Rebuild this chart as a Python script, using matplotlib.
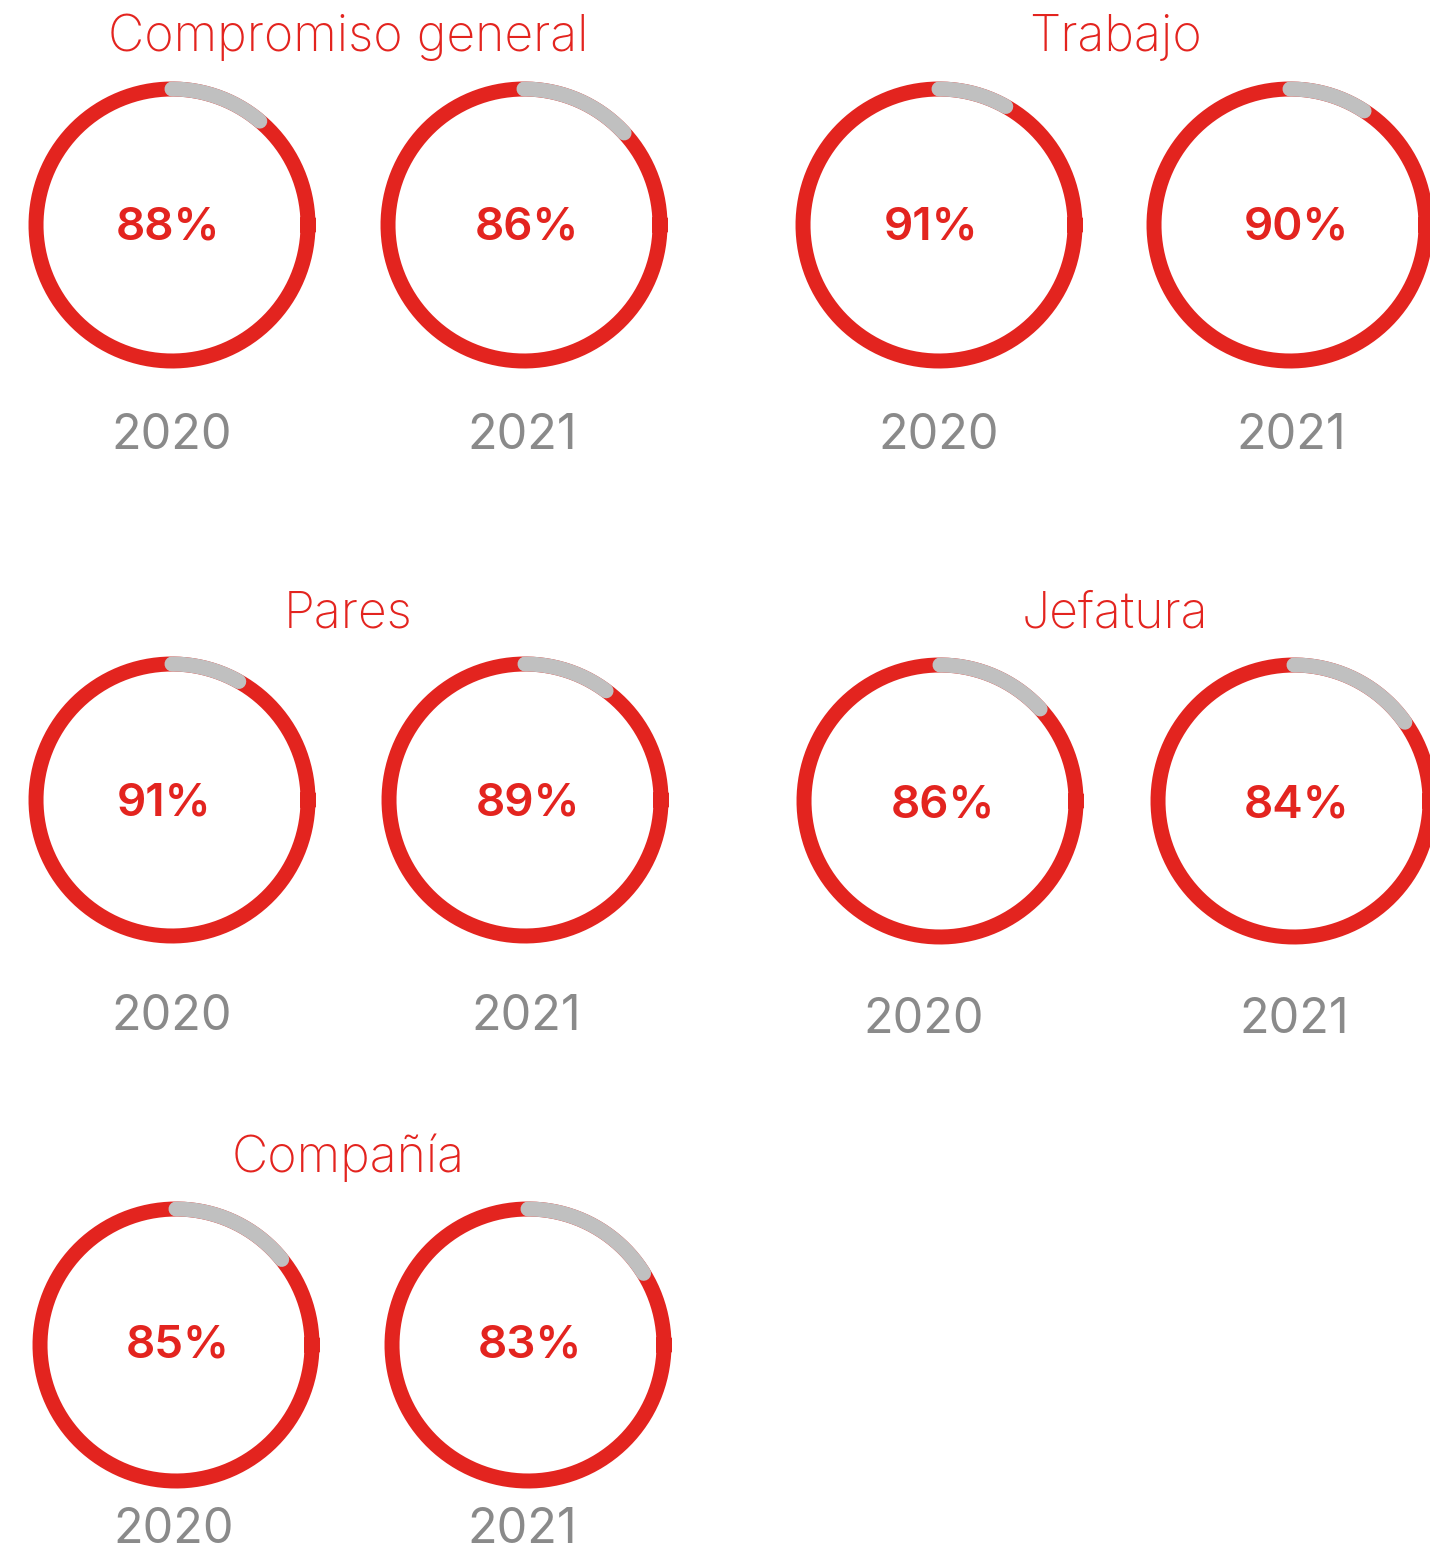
import numpy as np
import matplotlib
matplotlib.use("Agg")
import matplotlib.pyplot as plt

# survey results, percent positive
groups = ["Compromiso general", "Trabajo", "Pares", "Jefatura", "Compañía"]
years = ["2020", "2021"]
values_2020 = [88, 91, 91, 86, 85]
values_2021 = [86, 90, 89, 84, 83]

RED = "#e3241f"
GREY = "#c0c0c0"
YEAR_GREY = "#8a8a8a"
FONT = "Inter"

# layout in pixels: ring centres per group (2020, 2021)
centres = [
    [(172, 225), (524, 225)],
    [(939, 225), (1290, 225)],
    [(172, 800), (525, 800)],
    [(940, 801), (1294, 801)],
    [(176, 1345), (528, 1345)],
]
# text anchors (x centre, baseline)
titles_xy = [(348, 51), (1115, 51), (348, 627), (1115, 627), (348, 1172)]
pct_xy = [
    [(168, 239), (527, 239)],
    [(931, 239), (1296, 239)],
    [(164, 815), (528, 815)],
    [(943, 817), (1297, 817)],
    [(178, 1358), (530, 1358)],
]
year_xy = [
    [(172, 449), (522, 449)],
    [(939, 449), (1291, 449)],
    [(172, 1030), (526, 1030)],
    [(924, 1033), (1294, 1033)],
    [(174, 1543), (522, 1543)],
]
R = 136
LW = 10.8

fig = plt.figure(figsize=(14.30, 15.54), dpi=100)
ax = fig.add_axes([0, 0, 1, 1])
ax.set_xlim(0, 1430)
ax.set_ylim(1554, 0)
ax.axis("off")


def ring(cx, cy, pct):
    t = np.linspace(0, 2 * np.pi, 400)
    ax.plot(cx + R * np.cos(t), cy + R * np.sin(t), color=RED, lw=LW)
    # remainder drawn clockwise from 12 o'clock, round cap kept inside the span
    gap = np.radians((100 - pct) * 3.6 - 3)
    t = np.linspace(0, gap, 100)
    ax.plot(cx + R * np.sin(t), cy - R * np.cos(t), color=GREY, lw=LW,
            solid_capstyle="round")


for g, name in enumerate(groups):
    vals = [values_2020[g], values_2021[g]]
    for k in range(2):
        cx, cy = centres[g][k]
        ring(cx, cy, vals[k])
        px, py = pct_xy[g][k]
        ax.text(px, py, f"{vals[k]}%", color=RED, fontsize=33,
                fontweight="semibold", family=FONT, ha="center", va="baseline")
        yx, yy = year_xy[g][k]
        ax.text(yx, yy, years[k], color=YEAR_GREY, fontsize=35,
                family=FONT, fontweight="normal", ha="center", va="baseline")
    tx, ty = titles_xy[g]
    ax.text(tx, ty, name, color=RED, fontsize=36, family=FONT,
            fontweight="light", ha="center", va="baseline")

fig.savefig("out.png", dpi=100)
